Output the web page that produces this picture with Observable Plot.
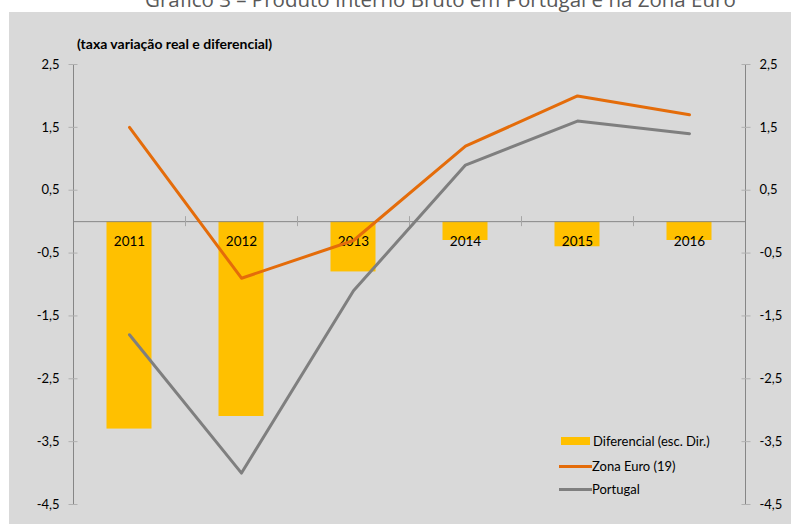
<!DOCTYPE html>
<html><head><meta charset="utf-8">
<script src="https://cdn.jsdelivr.net/npm/d3@7"></script>
<script src="https://cdn.jsdelivr.net/npm/@observablehq/plot@0.6"></script>
<style>
body{margin:0;width:791px;height:524px;overflow:hidden;background:#fff;position:relative;font-family:Lato,sans-serif}
#title{position:absolute;left:145px;top:-14.8px;font-family:"Open Sans";font-size:20.5px;color:#595959;white-space:nowrap}
#panel{position:absolute;left:9px;top:12px;width:782px;height:512px;background:#D9D9D9}
#sub{position:absolute;left:68px;top:23px;font-family:Lato;font-weight:bold;font-size:14px;color:#000;white-space:nowrap}
#chart{position:absolute;left:0;top:0}
.leg{position:absolute;left:550px;font-family:Lato;font-size:13px;color:#000;white-space:nowrap;height:14px;line-height:14px}
.sw{position:absolute;left:0;}
.lt{position:absolute;left:33px;top:0}
</style></head>
<body>
<div id="title">Gráfico 3 – Produto Interno Bruto em Portugal e na Zona Euro</div>
<div id="panel">
  <div id="sub">(taxa variação real e diferencial)</div>
  <div id="chart"></div>
  <div id="legend"></div>
</div>
<script>
const years = ["2011","2012","2013","2014","2015","2016"];
const diferencial = [-3.3,-3.1,-0.8,-0.3,-0.4,-0.3];
const zonaEuro = [1.5,-0.9,-0.3,1.2,2.0,1.7];
const portugal = [-1.8,-4.0,-1.1,0.9,1.6,1.4];
const yTicks = [2.5,1.5,0.5,-0.5,-1.5,-2.5,-3.5,-4.5];
const legendLabels = ["Diferencial (esc. Dir.)","Zona Euro (19)","Portugal"];

const colDif = "#FFC000", colZE = "#E46C0A", colPT = "#7F7F7F";
const rows = years.map((y,i)=>({year:y, dif:diferencial[i], ze:zonaEuro[i], pt:portugal[i]}));
const fmt = d => d3.format(".1f")(d).replace(".",",").replace("\u2212","-");

const chart = Plot.plot({
  width: 782, height: 512,
  marginLeft: 64, marginRight: 46, marginTop: 52, marginBottom: 20,
  style: {background: "transparent", fontFamily: "Lato", fontSize: "13px", color: "#000", overflow: "visible"},
  x: {domain: years, padding: 0, axis: null},
  y: {domain: [-4.5, 2.5], axis: null},
  marks: [
    Plot.barY(rows, {x: "year", y: "dif", fill: colDif, insetLeft: 33.5, insetRight: 33.5}),
    Plot.ruleY([0], {stroke: "#868686", strokeWidth: 1}),
    Plot.ruleX(years.slice(1), {x: d => d, dx: -56, y1: 0, y2: 0, insetTop: -5, insetBottom: -5, stroke: "#a6a6a6"}),
    Plot.ruleX([years[0]], {x: d => d, dx: -56, y1: -4.5, y2: 2.5, stroke: "#868686"}),
    Plot.ruleX([years[years.length-1]], {x: d => d, dx: 56, y1: -4.5, y2: 2.5, stroke: "#868686"}),
    Plot.axisY({ticks: yTicks, tickSize: 9, dx: 4.5, tickFormat: () => "", stroke: "#b0b0b0"}),
    Plot.axisY({ticks: yTicks, tickSize: 0, tickPadding: 14, tickFormat: fmt, fill: "#000"}),
    Plot.axisY({anchor: "right", ticks: yTicks, tickSize: 9, dx: -4.5, tickFormat: () => "", stroke: "#b0b0b0"}),
    Plot.axisY({anchor: "right", ticks: yTicks, tickSize: 0, tickPadding: 14, tickFormat: fmt, fill: "#000"}),
    Plot.text(rows, {x: "year", y: 0, dy: 20, text: "year", fill: "#000", fontSize: 13.5}),
    Plot.lineY(rows, {x: "year", y: "ze", stroke: colZE, strokeWidth: 3}),
    Plot.lineY(rows, {x: "year", y: "pt", stroke: colPT, strokeWidth: 3})
  ]
});
document.getElementById("chart").appendChild(chart);

// legend (positions relative to panel)
const leg = document.getElementById("legend");
const legTops = [422, 447, 470];
legendLabels.forEach((lab, i) => {
  const d = document.createElement("div");
  d.className = "leg";
  d.style.top = legTops[i] + "px";
  const sw = document.createElement("div");
  sw.className = "sw";
  if (i === 0) { sw.style.left = "2px"; sw.style.top = "3px"; sw.style.width = "29px"; sw.style.height = "8px"; sw.style.background = colDif; }
  else { sw.style.top = "6px"; sw.style.width = "33px"; sw.style.height = "3px"; sw.style.background = i === 1 ? colZE : colPT; }
  d.appendChild(sw);
  const t = document.createElement("span");
  t.className = "lt";
  t.style.left = (i === 0 ? 34 : 33) + "px";
  t.textContent = lab;
  d.appendChild(t);
  leg.appendChild(d);
});
</script>
</body></html>
